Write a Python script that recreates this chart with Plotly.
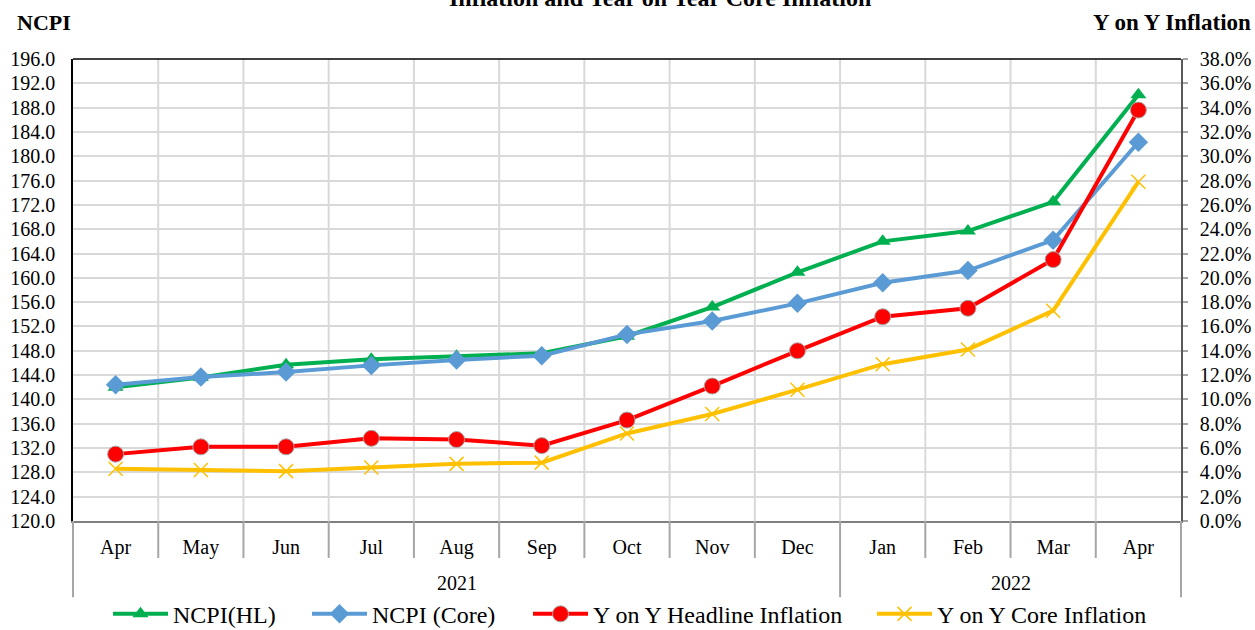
import plotly.graph_objects as go

months = ["Apr", "May", "Jun", "Jul", "Aug", "Sep", "Oct", "Nov", "Dec", "Jan", "Feb", "Mar", "Apr"]
years = ["2021"] * 9 + ["2022"] * 4
ncpi_hl = [142.0, 143.6, 145.7, 146.6, 147.1, 147.6, 150.4, 155.2, 160.9, 166.0, 167.7, 172.5, 190.1]
ncpi_core = [142.4, 143.7, 144.5, 145.6, 146.5, 147.2, 150.7, 152.9, 155.8, 159.2, 161.2, 166.2, 182.3]
yoy_headline = [5.5, 6.1, 6.1, 6.8, 6.7, 6.2, 8.3, 11.1, 14.0, 16.8, 17.5, 21.5, 33.8]
yoy_core = [4.3, 4.2, 4.1, 4.4, 4.7, 4.8, 7.2, 8.8, 10.8, 12.9, 14.1, 17.3, 27.9]

FONT = "Liberation Serif"
xs = list(range(len(months)))

fig = go.Figure()
fig.add_trace(go.Scatter(x=xs, y=ncpi_hl, name="NCPI(HL)", mode="lines+markers", legend="legend",
                         line=dict(color="#00B050", width=4),
                         marker=dict(symbol="triangle-up", size=14, color="#00B050")))
fig.add_trace(go.Scatter(x=xs, y=ncpi_core, name="NCPI (Core)", mode="lines+markers", legend="legend2",
                         line=dict(color="#5B9BD5", width=4),
                         marker=dict(symbol="diamond", size=15, color="#5B9BD5")))
fig.add_trace(go.Scatter(x=xs, y=yoy_headline, name="Y on Y Headline Inflation", mode="lines+markers",
                         legend="legend3",
                         yaxis="y2", line=dict(color="#FF0000", width=4),
                         marker=dict(symbol="circle", size=16, color="#FF0000",
                                     line=dict(color="#A6A6A6", width=1))))
fig.add_trace(go.Scatter(x=xs, y=yoy_core, name="Y on Y Core Inflation", mode="lines+markers",
                         legend="legend4",
                         yaxis="y2", line=dict(color="#FFC000", width=4),
                         marker=dict(symbol="x-thin", size=14, color="#FFC000",
                                     line=dict(color="#FFC000", width=1.5))))

shapes = []
# vertical gridlines at category boundaries
for i in range(1, len(months)):
    shapes.append(dict(type="line", xref="x", yref="paper", x0=i - 0.5, x1=i - 0.5, y0=0, y1=1,
                       line=dict(color="#D9D9D9", width=2), layer="below"))
# month separators below axis
for i in range(1, len(months)):
    long = years[i] != years[i - 1]
    shapes.append(dict(type="line", xref="x", yref="paper", x0=i - 0.5, x1=i - 0.5,
                       y0=-0.165 if long else -0.08, y1=0,
                       line=dict(color="#A6A6A6", width=2)))
# outer edges
for xp in (0, 1):
    shapes.append(dict(type="line", xref="paper", yref="paper", x0=xp, x1=xp, y0=-0.165, y1=0,
                       line=dict(color="#A6A6A6", width=2)))
# top frame
shapes.append(dict(type="line", xref="paper", yref="paper", x0=0, x1=1, y0=1, y1=1,
                   line=dict(color="#000000", width=1.5)))

annotations = []
for yr in sorted(set(years)):
    idx = [i for i, y in enumerate(years) if y == yr]
    annotations.append(dict(text=yr, x=(idx[0] + idx[-1]) / 2, xref="x", y=-0.135, yref="paper",
                            showarrow=False, font=dict(family=FONT, size=20, color="#000"),
                            yanchor="middle"))
annotations.append(dict(text="<b>NCPI</b>", x=-0.052, xref="paper", xanchor="left",
                        y=1.08, yref="paper", yanchor="middle", showarrow=False,
                        font=dict(family=FONT, size=22, color="#000")))
annotations.append(dict(text="<b>Y on Y Inflation</b>",
                        x=1.065, xref="paper", xanchor="right",
                        y=1.08, yref="paper", yanchor="middle", showarrow=False,
                        font=dict(family=FONT, size=23, color="#000")))
annotations.append(dict(text="<b>Inflation and Year on Year Core Inflation</b>",
                        x=0.53, xref="paper", xanchor="center",
                        y=1.1, yref="paper", yanchor="bottom", showarrow=False,
                        font=dict(family=FONT, size=24, color="#000")))

legend_starts = [118, 317, 538, 882]
legend_common = dict(orientation="h", xref="container", xanchor="left",
                     y=0.025, yref="container", yanchor="middle",
                     font=dict(family=FONT, size=24, color="#000"), itemwidth=55,
                     bgcolor="rgba(0,0,0,0)")
legends = {}
for k, px in enumerate(legend_starts):
    key = "legend" if k == 0 else f"legend{k + 1}"
    legends[key] = dict(legend_common, x=(px - 10) / 1255)

fig.update_layout(
    width=1255, height=630,
    margin=dict(l=73, r=74, t=59, b=109, autoexpand=False),
    paper_bgcolor="white", plot_bgcolor="white",
    font=dict(family=FONT, size=20, color="#000"),
    showlegend=True,
    xaxis=dict(range=[-0.5, len(months) - 0.5], tickvals=xs, ticktext=months, automargin=False,
               showgrid=False, zeroline=False, showline=True, linecolor="#808080", linewidth=2,
               ticks="outside", ticklen=7, tickcolor="rgba(0,0,0,0)",
               tickfont=dict(family=FONT, size=20, color="#000")),
    yaxis=dict(range=[120, 196], dtick=4, tick0=120, tickformat=".1f", showgrid=True,
               gridcolor="#D9D9D9", gridwidth=2, zeroline=False, showline=True, automargin=False,
               linecolor="#000000", linewidth=1.5, ticks="", ticklabelstandoff=12,
               tickfont=dict(family=FONT, size=20, color="#000")),
    yaxis2=dict(range=[0, 38], dtick=2, tick0=0, tickformat=".1f", ticksuffix="%",
                overlaying="y", side="right", showgrid=False, zeroline=False, automargin=False,
                showline=True, linecolor="#595959", linewidth=1.5, ticks="outside",
                ticklen=5, tickcolor="#A6A6A6", tickwidth=2, ticklabelstandoff=8,
                tickfont=dict(family=FONT, size=20, color="#000")),
    shapes=shapes, annotations=annotations,
    **legends,
)

fig.write_html("out.html", config={"displayModeBar": False},
               post_script="document.body.style.margin='0';document.body.style.padding='0';")
